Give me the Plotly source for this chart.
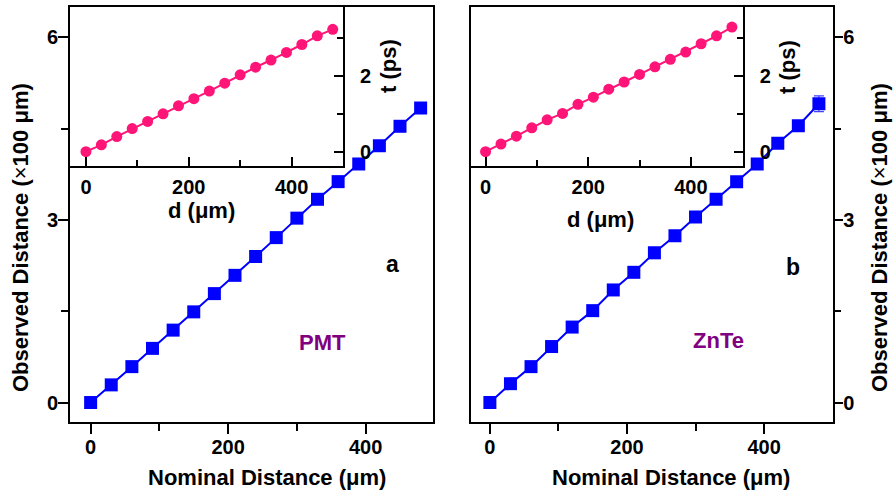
import plotly.graph_objects as go

W, H = 893, 491

# ---------- data ----------
nominal = [0, 30, 60, 90, 120, 150, 180, 210, 240, 270, 300, 330, 360, 390, 420, 450, 480]
obs_pmt = [0, 0.29, 0.59, 0.89, 1.19, 1.49, 1.79, 2.09, 2.40, 2.71, 3.03, 3.34, 3.63, 3.92, 4.22, 4.54, 4.84]
obs_znte = [0, 0.31, 0.59, 0.92, 1.24, 1.51, 1.85, 2.14, 2.46, 2.74, 3.05, 3.34, 3.63, 3.92, 4.26, 4.55, 4.91]
err_znte = [0.04, 0.04, 0.04, 0.04, 0.04, 0.04, 0.04, 0.04, 0.04, 0.04, 0.05, 0.05, 0.05, 0.05, 0.06, 0.07, 0.13]
d_inset = [0, 30, 60, 90, 120, 150, 180, 210, 240, 270, 300, 330, 360, 390, 420, 450, 480]
t_pmt = [0, 0.18, 0.40, 0.61, 0.80, 1.00, 1.21, 1.40, 1.60, 1.81, 2.03, 2.23, 2.42, 2.62, 2.83, 3.06, 3.23]
t_znte = [0, 0.20, 0.41, 0.63, 0.84, 1.01, 1.25, 1.44, 1.65, 1.84, 2.04, 2.24, 2.44, 2.63, 2.85, 3.06, 3.29]

BLUE = "#0000FF"
PINK = "#FF1478"
PURPLE = "#800080"
FONT = "Liberation Sans"

def px(x):
    return x / W

def py(y):
    return 1 - y / H

fig = go.Figure()

# main a
fig.add_trace(go.Scatter(x=nominal, y=obs_pmt, mode="lines+markers",
                         line=dict(color=BLUE, width=2),
                         marker=dict(symbol="square", size=13, color=BLUE),
                         xaxis="x", yaxis="y", showlegend=False))
# inset a
fig.add_trace(go.Scatter(x=d_inset, y=t_pmt, mode="lines+markers",
                         line=dict(color=PINK, width=2),
                         marker=dict(symbol="circle", size=11, color=PINK),
                         xaxis="x2", yaxis="y2", showlegend=False))
# main b
fig.add_trace(go.Scatter(x=nominal, y=obs_znte, mode="lines+markers",
                         line=dict(color=BLUE, width=2),
                         marker=dict(symbol="square", size=13, color=BLUE),
                         error_y=dict(type="data", array=err_znte, color="#4040FF", thickness=1.2, width=5),
                         xaxis="x3", yaxis="y3", showlegend=False))
# inset b
fig.add_trace(go.Scatter(x=d_inset, y=t_znte, mode="lines+markers",
                         line=dict(color=PINK, width=2),
                         marker=dict(symbol="circle", size=11, color=PINK),
                         xaxis="x4", yaxis="y4", showlegend=False))

tickfont = dict(family=FONT, size=20, color="black", weight="bold")
common = dict(showline=True, linecolor="black", linewidth=2, mirror=True,
              showgrid=False, zeroline=False, tickfont=tickfont,
              tickcolor="black", tickwidth=1.5)

fig.update_layout(
    xaxis=dict(domain=[px(70), px(433)], anchor="y", range=[-30, 498],
               tickvals=[0, 200, 400], ticks="outside", ticklen=10,
               minor=dict(tickvals=[100, 300], ticks="outside", ticklen=7, tickcolor="black", tickwidth=1.5),
               ticklabelstandoff=-4,
               **common),
    yaxis=dict(domain=[py(422), py(7)], anchor="x", range=[-0.32, 6.5],
               tickvals=[0, 3, 6], ticks="outside", ticklen=10,
               minor=dict(tickvals=[1.5, 4.5], ticks="outside", ticklen=7, tickcolor="black", tickwidth=1.5),
               ticklabelstandoff=-4,
               **common),
    xaxis2=dict(domain=[px(70), px(343)], anchor="y2", range=[-31, 500],
                tickvals=[0, 200, 400], ticks="inside", ticklen=9,
                minor=dict(tickvals=[100, 300], ticks="inside", ticklen=6, tickcolor="black", tickwidth=1.5),
                ticklabelstandoff=2,
                **common),
    yaxis2=dict(domain=[py(165.7), py(7)], anchor="x2", range=[-0.37, 3.82], side="right",
                tickvals=[0, 2], ticks="inside", ticklen=9,
                minor=dict(tickvals=[1, 3], ticks="inside", ticklen=6, tickcolor="black", tickwidth=1.5),
                ticklabelstandoff=11,
                **common),
    xaxis3=dict(domain=[px(470.7), px(833.3)], anchor="y3", range=[-28, 501],
                tickvals=[0, 200, 400], ticks="outside", ticklen=10,
                minor=dict(tickvals=[100, 300], ticks="outside", ticklen=7, tickcolor="black", tickwidth=1.5),
                ticklabelstandoff=-4,
                **common),
    yaxis3=dict(domain=[py(422), py(7)], anchor="x3", range=[-0.32, 6.5], side="right",
                tickvals=[0, 3, 6], ticks="outside", ticklen=8,
                minor=dict(tickvals=[1.5, 4.5], ticks="outside", ticklen=6, tickcolor="black", tickwidth=1.5),
                ticklabelstandoff=-4,
                **common),
    xaxis4=dict(domain=[px(470.7), px(742.7)], anchor="y4", range=[-29, 501],
                tickvals=[0, 200, 400], ticks="inside", ticklen=9,
                minor=dict(tickvals=[100, 300], ticks="inside", ticklen=6, tickcolor="black", tickwidth=1.5),
                ticklabelstandoff=2,
                **common),
    yaxis4=dict(domain=[py(165.7), py(7)], anchor="x4", range=[-0.37, 3.82], side="right",
                tickvals=[0, 2], ticks="inside", ticklen=9,
                minor=dict(tickvals=[1, 3], ticks="inside", ticklen=6, tickcolor="black", tickwidth=1.5),
                ticklabelstandoff=11,
                **common),
)

def ann(text, x, y, size=22, color="black", angle=0):
    fig.add_annotation(text=text, x=px(x), y=py(y), xref="paper", yref="paper",
                       showarrow=False, textangle=angle, xanchor="center", yanchor="middle",
                       font=dict(family=FONT, size=size, color=color, weight="bold"))

ytitle = "Observed Distance (<span style='font-weight:normal'>×</span>100 μm)"
ann(ytitle, 21, 238, angle=-90)
ann(ytitle, 880, 238, angle=-90)
ann("Nominal Distance (μm)", 267, 477)
ann("Nominal Distance (μm)", 671, 477)
ann("d (μm)", 201, 210)
ann("d (μm)", 600, 219)
ann("t (ps)", 388, 66, angle=-90)
ann("t (ps)", 787, 67, angle=-90)
ann("a", 392, 264, size=23)
ann("b", 793, 267, size=23)
ann("PMT", 322, 342, size=22, color=PURPLE)
ann("ZnTe", 718, 340, size=22, color=PURPLE)

fig.update_layout(width=W, height=H, margin=dict(l=0, r=0, t=0, b=0),
                  paper_bgcolor="white", plot_bgcolor="white")

fig.write_html("out.html")
